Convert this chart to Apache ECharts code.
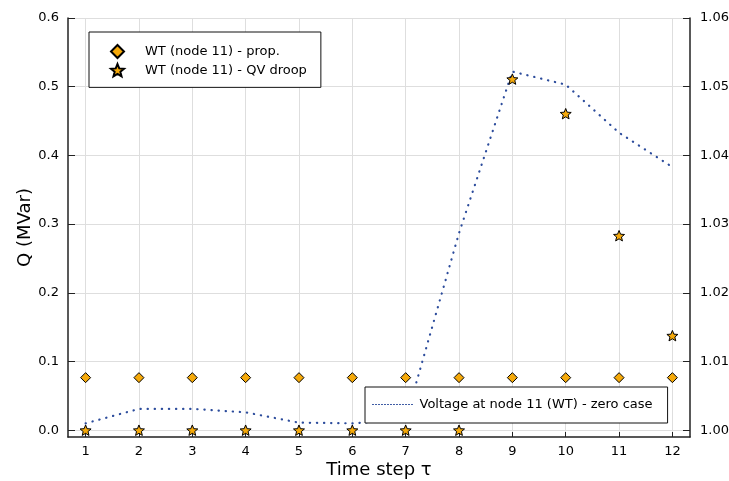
<!DOCTYPE html>
<html>
<head>
<meta charset="utf-8">
<script src="https://cdn.jsdelivr.net/npm/echarts@6/dist/echarts.min.js"></script>
<style>
html,body{margin:0;padding:0;background:#fff;}
#chart{width:729px;height:481px;}
</style>
</head>
<body>
<div id="chart"></div>
<script>
const timeSteps = [1, 2, 3, 4, 5, 6, 7, 8, 9, 10, 11, 12];
const qProp = [0.0765, 0.0765, 0.0765, 0.0765, 0.0765, 0.0765, 0.0765, 0.0765, 0.0765, 0.0765, 0.0765, 0.0765];
const qDroop = [0, 0, 0, 0, 0, 0, 0, 0, 0.511, 0.4607, 0.2831, 0.1376];
const voltage = [1.0010, 1.0031, 1.0031, 1.0026, 1.0011, 1.0010, 1.0015, 1.0287, 1.0522, 1.0503, 1.0433, 1.0383];
const leftTicks = [0, 0.1, 0.2, 0.3, 0.4, 0.5, 0.6];
const rightTicks = [1.00, 1.01, 1.02, 1.03, 1.04, 1.05, 1.06];

const nameProp = 'WT (node 11) - prop.';
const nameDroop = 'WT (node 11) - QV droop';
const nameVolt = 'Voltage at node 11 (WT) - zero case';

const STAR = 'path://M50,0 L62.93,32.2 L97.55,34.55 L70.92,56.8 L79.39,90.45 L50,72 L20.61,90.45 L29.08,56.8 L2.45,34.55 L37.07,32.2 Z';
const FONT = 'DejaVu Sans';
const ORANGE = '#f5a90a';
const BLUE = '#2c4c9c';
const AXIS = '#222';
const GRID = '#dedede';

const pair = (xs, ys) => xs.map((x, i) => [x, ys[i]]);

const chart = echarts.init(document.getElementById('chart'), null, {renderer: 'canvas'});
chart.setOption({
  animation: false,
  backgroundColor: '#fff',
  textStyle: {fontFamily: FONT},
  grid: {left: 68, right: 39, top: 18, bottom: 44, containLabel: false, outerBoundsMode: 'none'},
  xAxis: {
    type: 'value', min: 0.67, max: 12.33,
    name: 'Time step τ', nameLocation: 'middle', nameGap: 24, nameMoveOverlap: false,
    nameTextStyle: {fontFamily: FONT, fontSize: 18, color: '#000'},
    axisLine: {show: true, onZero: false, lineStyle: {color: AXIS, width: 1.5}},
    axisTick: {show: true, inside: true, length: 5, customValues: timeSteps, lineStyle: {color: AXIS, width: 1}},
    axisLabel: {customValues: timeSteps, fontFamily: FONT, fontSize: 13, color: '#000', margin: 8},
    splitLine: {show: true, lineStyle: {color: GRID, width: 1}}
  },
  yAxis: [{
    type: 'value', min: -0.0099, max: 0.6, position: 'left',
    name: 'Q (MVar)', nameLocation: 'middle', nameGap: 34, nameRotate: 90, nameMoveOverlap: false,
    nameTextStyle: {fontFamily: FONT, fontSize: 18, color: '#000'},
    axisLine: {show: true, onZero: false, lineStyle: {color: AXIS, width: 1.5}},
    axisTick: {show: true, inside: true, length: 7, customValues: leftTicks, lineStyle: {color: AXIS, width: 1}},
    axisLabel: {customValues: leftTicks, fontFamily: FONT, fontSize: 13, color: '#000', margin: 9,
      formatter: v => v.toFixed(1)},
    splitLine: {show: true, lineStyle: {color: GRID, width: 1}}
  }, {
    type: 'value', min: 0.99901, max: 1.06, position: 'right',
    axisLine: {show: true, onZero: false, lineStyle: {color: AXIS, width: 1.5}},
    axisTick: {show: true, inside: true, length: 7, customValues: rightTicks, lineStyle: {color: AXIS, width: 1}},
    axisLabel: {customValues: rightTicks, fontFamily: FONT, fontSize: 13, color: '#000', margin: 10,
      formatter: v => v.toFixed(2)},
    splitLine: {show: false}
  }],
  legend: [{
    data: [nameProp, nameDroop],
    orient: 'vertical', left: 89, top: 32,
    padding: [12, 14, 10, 21],
    itemWidth: 13, itemHeight: 13, itemGap: 4,
    borderColor: '#111', borderWidth: 1, backgroundColor: '#fff',
    textStyle: {fontFamily: FONT, fontSize: 13, color: '#000', padding: [0, 0, 0, 16]}
  }, {
    data: [{name: nameVolt, itemStyle: {opacity: 0}}],
    orient: 'vertical', left: 365, top: 387,
    padding: [11, 15, 12, 7],
    itemWidth: 41, itemHeight: 14,
    borderColor: '#111', borderWidth: 1, backgroundColor: '#fff',
    lineStyle: {width: 1, type: [1, 2], color: BLUE},
    textStyle: {fontFamily: FONT, fontSize: 13, color: '#000', padding: [0, 0, 0, 1]}
  }],
  series: [{
    name: nameVolt, type: 'line', yAxisIndex: 1,
    data: pair(timeSteps, voltage),
    symbol: 'none', smooth: false, z: 1,
    lineStyle: {color: BLUE, width: 2.2, type: [0.3, 6.8], cap: 'round'},
    itemStyle: {color: BLUE}
  }, {
    name: nameProp, type: 'scatter', yAxisIndex: 0,
    data: pair(timeSteps, qProp),
    symbol: 'diamond', symbolSize: 10, z: 5,
    itemStyle: {color: ORANGE, borderColor: '#000', borderWidth: 1, opacity: 1}
  }, {
    name: nameDroop, type: 'scatter', yAxisIndex: 0,
    data: pair(timeSteps, qDroop),
    symbol: STAR, symbolSize: 11, symbolKeepAspect: true, z: 5,
    itemStyle: {color: ORANGE, borderColor: '#000', borderWidth: 1, opacity: 1}
  }]
});
</script>
</body>
</html>
